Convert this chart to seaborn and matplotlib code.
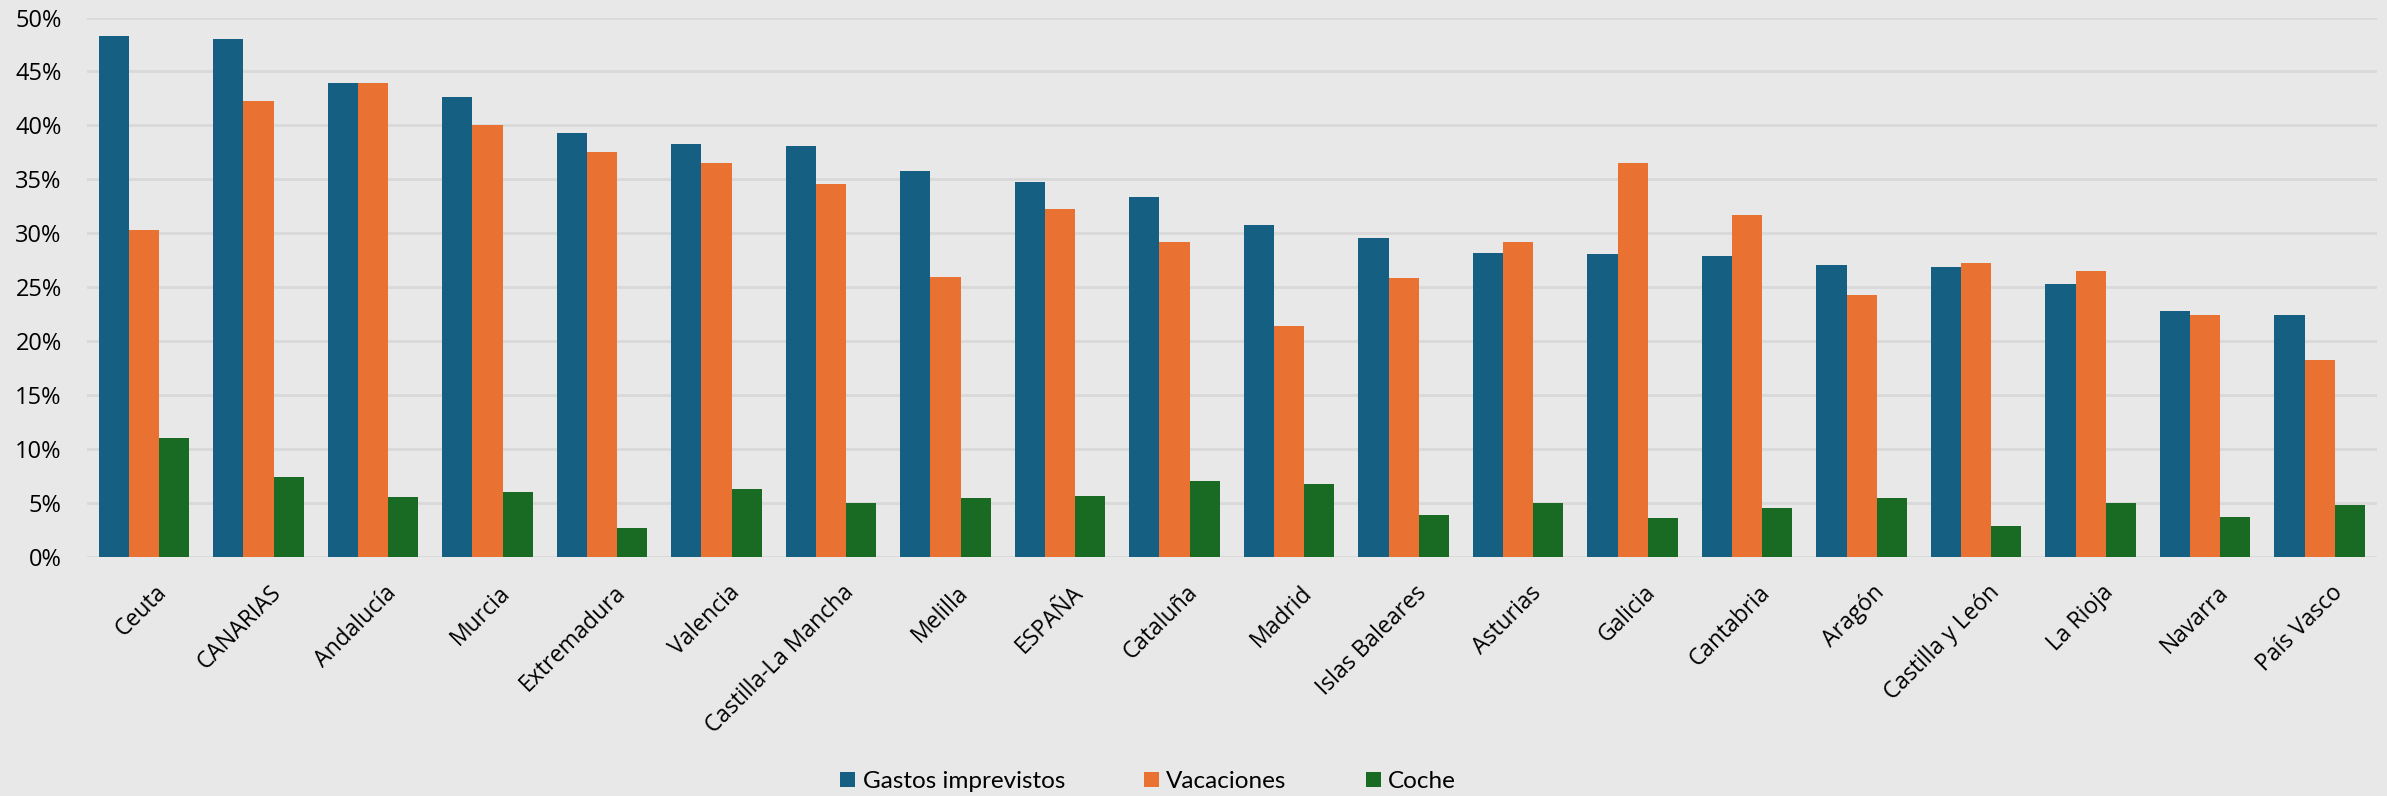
import pandas as pd
import seaborn as sns
import matplotlib.pyplot as plt
from matplotlib.ticker import FuncFormatter, MultipleLocator
from matplotlib.transforms import ScaledTranslation

regiones = ['Ceuta', 'CANARIAS', 'Andalucía', 'Murcia', 'Extremadura', 'Valencia',
            'Castilla-La Mancha', 'Melilla', 'ESPAÑA', 'Cataluña', 'Madrid',
            'Islas Baleares', 'Asturias', 'Galicia', 'Cantabria', 'Aragón',
            'Castilla y León', 'La Rioja', 'Navarra', 'País Vasco']

gastos = [48.3, 48.0, 43.9, 42.6, 39.3, 38.3, 38.1, 35.8, 34.8, 33.4,
          30.8, 29.6, 28.2, 28.1, 27.9, 27.1, 26.9, 25.3, 22.8, 22.4]
vacaciones = [30.3, 42.3, 43.9, 40.0, 37.5, 36.5, 34.6, 26.0, 32.3, 29.2,
              21.4, 25.9, 29.2, 36.5, 31.7, 24.3, 27.3, 26.5, 22.4, 18.3]
coche = [11.0, 7.4, 5.6, 6.0, 2.7, 6.3, 5.0, 5.5, 5.7, 7.1,
         6.8, 3.9, 5.0, 3.6, 4.6, 5.5, 2.9, 5.0, 3.7, 4.8]

series = ['Gastos imprevistos', 'Vacaciones', 'Coche']
colores = ['#156082', '#E97132', '#196B24']

df = pd.DataFrame({
    'Region': regiones * 3,
    'Serie': [series[0]] * 20 + [series[1]] * 20 + [series[2]] * 20,
    'Valor': gastos + vacaciones + coche,
})

bg = '#E8E8E8'
fig = plt.figure(figsize=(23.87, 7.96), dpi=100, facecolor=bg)
ax = fig.add_axes([0.0363, 0.300, 0.9595, 0.678])
ax.set_facecolor(bg)

sns.barplot(data=df, x='Region', y='Valor', hue='Serie', palette=colores,
            saturation=1, width=0.79, edgecolor='none', ax=ax, legend=True)

ax.set_ylim(0, 50)
ax.set_xlim(-0.5, 19.5)
ax.yaxis.set_major_locator(MultipleLocator(5))
ax.yaxis.set_major_formatter(FuncFormatter(lambda v, p: f'{v:.0f}%'))
ax.grid(axis='y', color='#D9D9D9', linewidth=2)
ax.set_axisbelow(True)
for s in ax.spines.values():
    s.set_visible(False)
ax.set_xlabel('')
ax.set_ylabel('')
ax.tick_params(axis='y', length=0, pad=18, labelsize=17)
ax.tick_params(axis='x', length=0, pad=17, labelsize=16.5)
for lab in ax.get_yticklabels():
    lab.set_fontfamily('Open Sans')
shift = ScaledTranslation(8 / 72, 0, fig.dpi_scale_trans)
for lab in ax.get_xticklabels():
    lab.set_fontfamily('Open Sans')
    lab.set_rotation(45)
    lab.set_ha('right')
    lab.set_rotation_mode('anchor')
    lab.set_transform(lab.get_transform() + shift)

ax.get_legend().remove()
leg = fig.legend(*ax.get_legend_handles_labels(), loc='center', bbox_to_anchor=(0.481, 0.018),
                 ncol=3, frameon=False, handlelength=0.62, handleheight=0.62,
                 handletextpad=0.3, columnspacing=3.25,
                 prop={'family': 'Lato', 'size': 17.5})

fig.savefig('out.png', dpi=100, facecolor=bg)
